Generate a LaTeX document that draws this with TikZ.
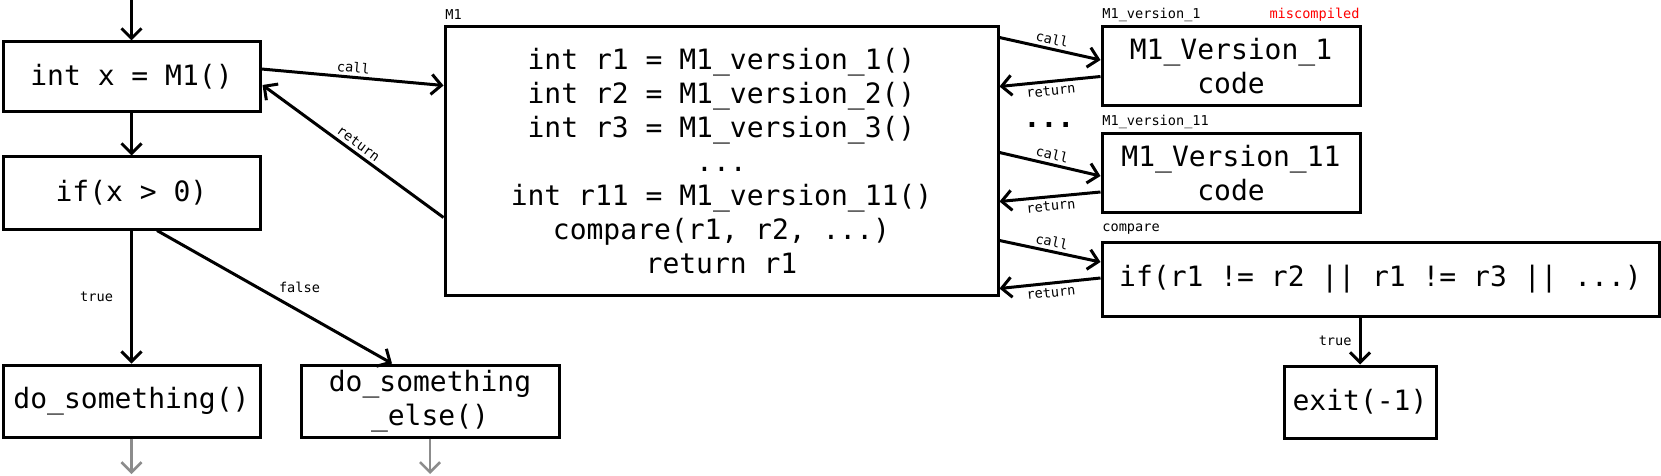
\documentclass[tikz,border=0pt]{standalone}
\usepackage{fontspec}
\setmainfont{DejaVu Sans Mono}
\usetikzlibrary{arrows.meta,calc}
\definecolor{arrowgray}{RGB}{140,140,140}
\begin{document}
\begin{tikzpicture}[x=0.5pt,y=-0.5pt,
  box/.style={draw, line width=1.5pt, align=center, inner sep=0pt, font=\fontsize{14}{17}\selectfont},
  lbl/.style={font=\fontsize{6.8}{7.5}\selectfont, inner sep=1.5pt},
  conn/.style={line width=1.5pt, -{Straight Barb[length=5pt,width=10pt,line width=1.5pt]}},
  grayconn/.style={draw=arrowgray, line width=1.3pt, -{Straight Barb[length=5pt,width=10pt,line width=1.3pt]}}]
\useasboundingbox (0,0) rectangle (1661,476);

% boxes
\node[box, minimum width=128.5pt, minimum height=35pt] (A) at (131.5,77) {int x = M1()};
\node[box, minimum width=128.5pt, minimum height=36pt] (B) at (131.5,193) {if(x > 0)};
\node[box, minimum width=128.5pt, minimum height=36pt] (C) at (131.5,401) {do\_something()};
\node[box, minimum width=129pt, minimum height=36pt] (D) at (430,401) {do\_something\\\_else()};
\node[box, minimum width=276.5pt, minimum height=134pt] (M1) at (721.5,161)
  {int r1 = M1\_version\_1()\\int r2 = M1\_version\_2()\\int r3 = M1\_version\_3()\\...\\int r11 = M1\_version\_11()\\compare(r1, r2, ...)\\return r1};
\node[box, minimum width=129pt, minimum height=39.5pt] (E) at (1231,66.5) {M1\_Version\_1\\code};
\node[box, minimum width=129pt, minimum height=39pt] (F) at (1231,173) {M1\_Version\_11\\code};
\node[box, minimum width=278.5pt, minimum height=37pt] (G) at (1380.5,279) {if(r1 != r2 || r1 != r3 || ...)};
\node[box, minimum width=76pt, minimum height=36pt] (H) at (1360,402) {exit(-1)};

% small titles
\node[lbl, inner sep=0pt, anchor=base west] (tM1) at (445,20) {M1};
\node[lbl, inner sep=0pt, anchor=base west] (tE) at (1102,19) {M1\_version\_1};
\node[lbl, inner sep=0pt, anchor=base east, text=red] (tmis) at (1360,19) {miscompiled};
\node[lbl, inner sep=0pt, anchor=base west] (tF) at (1102,126) {M1\_version\_11};
\node[lbl, inner sep=0pt, anchor=base west] (tG) at (1102,232) {compare};
\node[font=\fontsize{14}{17}\selectfont\bfseries, inner sep=0pt, anchor=base] (dots) at (1049,128) {...};

% coordinates for free ends
\coordinate (top) at (131.5,0);
\coordinate (cend) at (131.5,474);
\coordinate (dend) at (430,474);

% left flow
\draw[conn] (top) -- (A.north);
\draw[conn] (A.south) -- (B.north);
\draw[conn] (B.south) -- node[lbl, left, xshift=-7pt] (t1) {true} (C.north);
\draw[conn] ($(B.south)+(25.5,0)$) -- node[lbl, anchor=south west] (f1) {false} ($(D.north)+(-38,0)$);
\draw[grayconn] (C.south) -- (cend);
\draw[grayconn] (D.south) -- (dend);

% call / return to M1
\draw[conn] ($(A.east)+(0,-8)$) -- node[lbl, sloped, above] (c0) {call} ($(M1.north west)+(0,60)$);
\draw[conn] ($(M1.north west)+(0,192)$) -- node[lbl, sloped, above] (r0) {return} ($(A.east)+(1,8)$);

% call / return right
\draw[conn] ($(M1.north east)+(0,12)$) -- node[lbl, sloped, above] (c1) {call} ($(E.west)+(0,-6.5)$);
\draw[conn] ($(E.west)+(0,10)$) -- node[lbl, sloped, below] (r1) {return} ($(M1.north east)+(0,61)$);
\draw[conn] ($(M1.north east)+(0,127)$) -- node[lbl, sloped, above] (c2) {call} ($(F.west)+(0,3)$);
\draw[conn] ($(F.west)+(0,19)$) -- node[lbl, sloped, below] (r2) {return} ($(M1.north east)+(0,176)$);
\draw[conn] ($(M1.north east)+(0,215)$) -- node[lbl, sloped, above] (c3) {call} ($(G.west)+(0,-17)$);
\draw[conn] ($(G.west)+(0,-1)$) -- node[lbl, sloped, below] (r3) {return} ($(M1.north east)+(0,263)$);

% compare -> exit
\draw[conn] (H.north |- G.south) -- node[lbl, left, xshift=-2pt] (t2) {true} (H.north);
\end{tikzpicture}
\end{document}
